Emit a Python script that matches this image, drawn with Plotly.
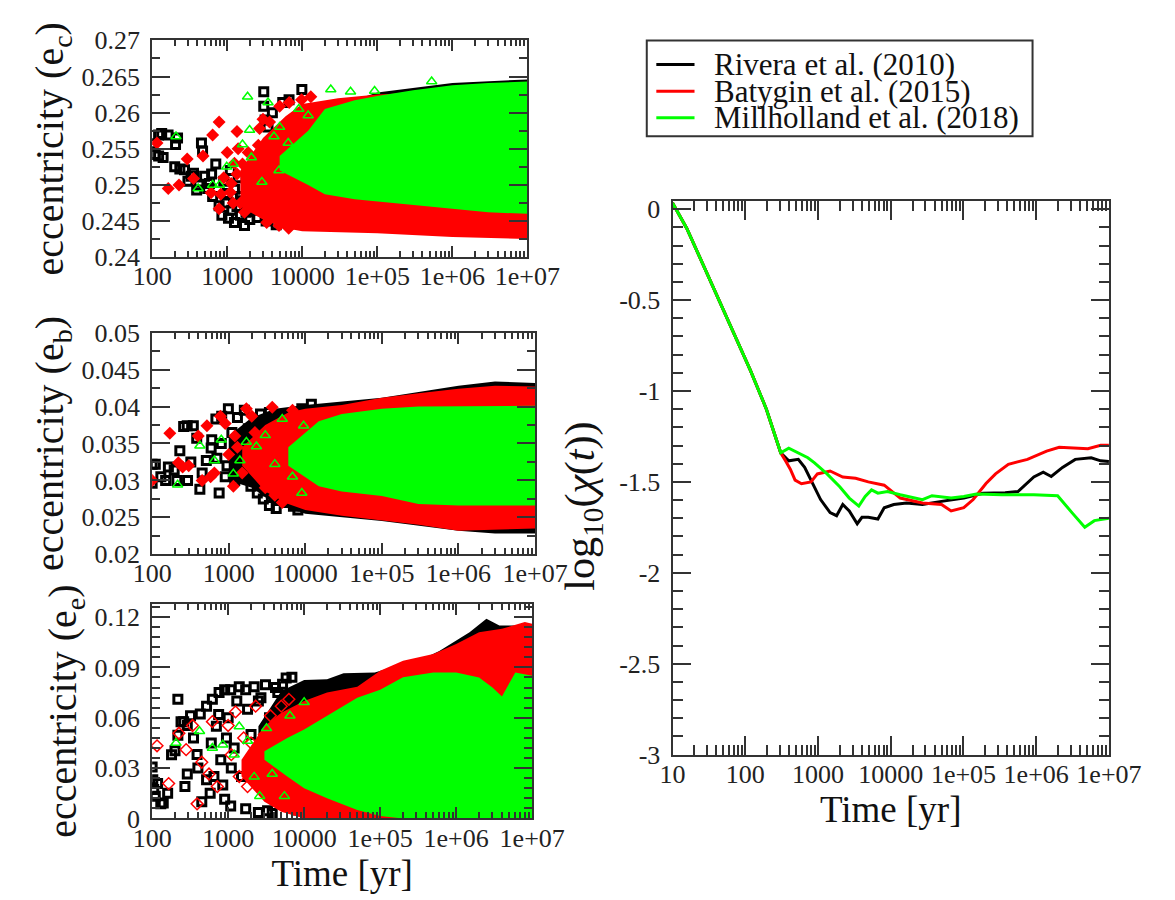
import plotly.graph_objects as go

# ------------------------------------------------------------------ data
SERIES = ["Rivera et al. (2010)", "Batygin et al. (2015)", "Millholland et al. (2018)"]
COLORS = ["#000000", "#ff0000", "#00ff00"]

LEFT_TIME_TICKS = [100, 1000, 10000, 1e5, 1e6, 1e7]
LEFT_TIME_LABELS = ["100", "1000", "10000", "1e+05", "1e+06", "1e+07"]
RIGHT_TIME_TICKS = [10, 100, 1000, 10000, 1e5, 1e6, 1e7]
RIGHT_TIME_LABELS = ["10", "100", "1000", "10000", "1e+05", "1e+06", "1e+07"]

EC_TICKS = [0.24, 0.245, 0.25, 0.255, 0.26, 0.265, 0.27]
EC_LABELS = ["0.24", "0.245", "0.25", "0.255", "0.26", "0.265", "0.27"]
EB_TICKS = [0.02, 0.025, 0.03, 0.035, 0.04, 0.045, 0.05]
EB_LABELS = ["0.02", "0.025", "0.03", "0.035", "0.04", "0.045", "0.05"]
EE_TICKS = [0, 0.03, 0.06, 0.09, 0.12]
EE_LABELS = ["0", "0.03", "0.06", "0.09", "0.12"]
CHI_TICKS = [-3, -2.5, -2, -1.5, -1, -0.5, 0]
CHI_LABELS = ["-3", "-2.5", "-2", "-1.5", "-1", "-0.5", "0"]

# --- panel 1 : e_c  (sparse early points) ---
ec_black_t = [100, 122, 134, 163, 110, 122, 140, 218, 205, 200, 234, 270, 356, 392, 454, 470, 705, 580, 640,
              780, 850, 1040, 1250, 1500, 1780, 1700, 1000, 1250, 1500, 2060, 2740, 3670, 3070, 3070, 5500,
              6670, 9880, 300, 330, 420, 500, 550, 620, 900, 1100, 1400, 1800, 2200, 2500, 2800, 3300,
              4000, 4500, 5000, 6000, 3500, 4000, 3200, 950, 1150, 1350, 1600, 2000, 2400]
ec_black_e = [0.2557, 0.2569, 0.2571, 0.2569, 0.2542, 0.2540, 0.2538, 0.2565, 0.2556, 0.2525, 0.2522, 0.2521,
              0.2516, 0.2493, 0.2558, 0.2547, 0.2529, 0.2502, 0.2484, 0.2471, 0.2458, 0.2454, 0.2448, 0.2458,
              0.2462, 0.2444, 0.2488, 0.2494, 0.2484, 0.2521, 0.2525, 0.2538, 0.2609, 0.2629, 0.2614, 0.2618,
              0.2632, 0.2505, 0.2512, 0.2500, 0.2512, 0.2495, 0.2515, 0.2505, 0.2520, 0.2510, 0.2495, 0.2470,
              0.2455, 0.2485, 0.2450, 0.2460, 0.2445, 0.2455, 0.2448, 0.2580, 0.2600, 0.2590, 0.2475, 0.2465,
              0.2470, 0.2478, 0.2452, 0.2465]
ec_red_t = [116, 164, 228, 293, 356, 476, 610, 640, 780, 780, 820, 1130, 1350, 1600, 1350, 1200, 1500, 1800,
            2700, 3000, 3670, 3360, 4900, 6600, 5000, 6700, 9800, 13000, 2000, 2300, 2600, 3000, 3500, 4000,
            4500, 5200, 6000, 7000, 8000, 900, 1000, 1100, 1250, 1400, 1700, 1900]
ec_red_e = [0.2558, 0.2495, 0.2500, 0.2536, 0.2509, 0.2540, 0.2489, 0.2569, 0.2587, 0.2467, 0.2487, 0.2502,
            0.2515, 0.2529, 0.2574, 0.2475, 0.2475, 0.2480, 0.2578, 0.2591, 0.2587, 0.2448, 0.2444, 0.2440,
            0.2609, 0.2614, 0.2618, 0.2622, 0.2500, 0.2530, 0.2555, 0.2470, 0.2510, 0.2545, 0.2570, 0.2490,
            0.2530, 0.2560, 0.2500, 0.2510, 0.2545, 0.2490, 0.2530, 0.2550, 0.2462, 0.2545]
ec_green_t = [208, 410, 640, 790, 985, 1200, 1870, 1990, 1600, 2100, 2900, 3500, 4200, 4900, 5000, 6500,
              9000, 9000, 12000, 24000, 44000, 92000, 530000]
ec_green_e = [0.2567, 0.2495, 0.2500, 0.2500, 0.2525, 0.2529, 0.2622, 0.2576, 0.2556, 0.2538, 0.2504, 0.2614,
              0.2567, 0.2520, 0.2580, 0.2558, 0.2605, 0.2534, 0.2596, 0.2632, 0.2629, 0.2630, 0.2643]
# dense envelopes (time, lower, upper)
ec_black_env_t = [4000, 1e4, 3e4, 1e5, 1e6, 1e7]
ec_black_env_lo = [0.2448, 0.2442, 0.2438, 0.2437, 0.2433, 0.2430]
ec_black_env_hi = [0.2470, 0.2560, 0.2610, 0.2628, 0.2641, 0.2646]
ec_red_env_t = [1500, 3000, 6000, 1e4, 3e4, 1e5, 1e6, 1e7]
ec_red_env_lo = [0.2470, 0.2452, 0.2440, 0.2436, 0.2435, 0.2433, 0.2428, 0.2425]
ec_red_env_hi = [0.2520, 0.2565, 0.2595, 0.2612, 0.2620, 0.2625, 0.2630, 0.2635]
ec_green_env_t = [5000, 1.2e4, 2e4, 5e4, 1e5, 3e5, 1e6, 3e6, 1e7]
ec_green_env_lo = [0.2520, 0.2500, 0.2487, 0.2480, 0.2477, 0.2472, 0.2467, 0.2462, 0.2460]
ec_green_env_hi = [0.2540, 0.2575, 0.2605, 0.2617, 0.2623, 0.2631, 0.2638, 0.2641, 0.2643]

# --- panel 2 : e_b ---
eb_black_t = [100, 100, 110, 163, 194, 210, 290, 258, 287, 345, 382, 420, 510, 590, 680, 810, 990, 750, 1950,
              2360, 2830, 3400, 4170, 3400, 5000, 9000, 12000, 130, 150, 230, 320, 450, 600, 900, 1100, 1300,
              1500, 1800, 2200, 2600, 3000, 5500, 7000, 8000, 700, 800, 950, 1200, 1400, 1600]
eb_black_e = [0.0296, 0.0322, 0.0322, 0.0318, 0.0314, 0.0300, 0.0300, 0.0373, 0.0374, 0.0374, 0.0357, 0.0288,
              0.0327, 0.0344, 0.0383, 0.0387, 0.0397, 0.0283, 0.0292, 0.0283, 0.0275, 0.0266, 0.0262, 0.0392,
              0.0387, 0.0397, 0.0403, 0.0305, 0.0300, 0.0340, 0.0325, 0.0310, 0.0355, 0.0305, 0.0365, 0.0385,
              0.0330, 0.0370, 0.0350, 0.0390, 0.0310, 0.0270, 0.0265, 0.0260, 0.0330, 0.0350, 0.0320, 0.0300,
              0.0350, 0.0395]
eb_red_t = [100, 170, 220, 250, 300, 400, 450, 520, 580, 780, 900, 1150, 1700, 2000, 3700, 6800, 1300, 2500,
            3000, 4500, 5000, 6000, 1500, 2200, 3300, 4000, 8000, 650, 1000, 1200]
eb_red_e = [0.0300, 0.0364, 0.0324, 0.0318, 0.0320, 0.0360, 0.0300, 0.0374, 0.0305, 0.0387, 0.0377, 0.0292,
            0.0397, 0.0387, 0.0399, 0.0395, 0.0345, 0.0335, 0.0290, 0.0320, 0.0270, 0.0360, 0.0310, 0.0365,
            0.0340, 0.0280, 0.0380, 0.0310, 0.0335, 0.0360]
eb_green_t = [215, 420, 650, 800, 1150, 1400, 1700, 2300, 3000, 5000, 4000, 6800, 9500, 9000]
eb_green_e = [0.0294, 0.0347, 0.0327, 0.0355, 0.0309, 0.0327, 0.0352, 0.0346, 0.0361, 0.0383, 0.0322, 0.0305,
              0.0374, 0.0283]
eb_black_env_t = [1000, 2000, 4000, 1e4, 1e5, 1e6, 3e6, 1e7]
eb_black_env_lo = [0.0300, 0.0290, 0.0268, 0.0255, 0.0245, 0.0232, 0.0228, 0.0228]
eb_black_env_hi = [0.0360, 0.0385, 0.0397, 0.0402, 0.0412, 0.0428, 0.0434, 0.0432]
eb_red_env_t = [1500, 3000, 6000, 1e4, 3e4, 1e5, 3e5, 1e6, 3e6, 1e7]
eb_red_env_lo = [0.0320, 0.0285, 0.0268, 0.0260, 0.0252, 0.0246, 0.0240, 0.0232, 0.0233, 0.0235]
eb_red_env_hi = [0.0345, 0.0375, 0.0392, 0.0397, 0.0402, 0.0412, 0.0418, 0.0424, 0.0428, 0.0427]
eb_green_env_t = [6000, 1.5e4, 3e4, 1e5, 3e5, 1e6, 3e6, 1e7]
eb_green_env_lo = [0.0320, 0.0292, 0.0285, 0.0279, 0.0268, 0.0266, 0.0266, 0.0266]
eb_green_env_hi = [0.0345, 0.0380, 0.0390, 0.0397, 0.0400, 0.0400, 0.0400, 0.0401]

# --- panel 3 : e_e ---
ee_black_t = [100, 102, 105, 110, 118, 130, 140, 200, 218, 240, 218, 260, 290, 290, 270, 320, 350, 390, 430,
              520, 620, 520, 580, 760, 900, 1080, 900, 1080, 1400, 1700, 2200, 3100, 1700, 2500, 3300, 5800,
              6900, 400, 600, 700, 800, 1000, 1200, 1500, 1800, 2000, 2500, 3000, 3500, 4000, 4500, 5000,
              6000, 7000, 8000, 160, 180, 450, 650, 750, 850, 950, 1100, 1300, 4200, 5200, 2700, 3800]
ee_black_e = [0.0306, 0.0230, 0.0173, 0.0133, 0.0208, 0.0087, 0.0092, 0.0404, 0.0496, 0.0577, 0.0710, 0.0577,
              0.0554, 0.0265, 0.0190, 0.0612, 0.0479, 0.0381, 0.0623, 0.0669, 0.0710, 0.0231, 0.0150, 0.0750,
              0.0767, 0.0767, 0.0115, 0.0075, 0.0785, 0.0767, 0.0785, 0.0796, 0.0058, 0.0035, 0.0046, 0.0837,
              0.0842, 0.0300, 0.0450, 0.0550, 0.0350, 0.0600, 0.0420, 0.0250, 0.0650, 0.0500, 0.0700, 0.0300,
              0.0600, 0.0150, 0.0750, 0.0450, 0.0100, 0.0650, 0.0050, 0.0150, 0.0380, 0.0100, 0.0250, 0.0620,
              0.0200, 0.0480, 0.0300, 0.0700, 0.0780, 0.0800, 0.0720, 0.0030]
ee_red_t = [116, 165, 225, 280, 340, 390, 450, 560, 620, 720, 1000, 1250, 2300, 1800, 3600, 5000, 6300, 2000,
            2500, 3000, 3500, 4000, 4500, 5000, 6000, 7000, 8000, 9000, 1100, 1400, 1600]
ee_red_e = [0.0433, 0.0208, 0.0508, 0.0410, 0.0554, 0.0087, 0.0335, 0.0265, 0.0577, 0.0190, 0.0554, 0.0635,
            0.0669, 0.0190, 0.0612, 0.0669, 0.0710, 0.0450, 0.0300, 0.0500, 0.0200, 0.0400, 0.0550, 0.0250,
            0.0450, 0.0150, 0.0600, 0.0350, 0.0380, 0.0250, 0.0480]
ee_green_t = [206, 420, 620, 850, 1200, 1400, 1800, 2200, 2600, 3200, 3800, 4500, 5500, 6500, 8000, 10000]
ee_green_e = [0.0450, 0.0520, 0.0420, 0.0439, 0.0380, 0.0548, 0.0462, 0.0248, 0.0133, 0.0537, 0.0265, 0.0380,
              0.0133, 0.0612, 0.0439, 0.0692]
ee_black_env_t = [2500, 5000, 1e4, 2e4, 3.3e4, 8.5e4, 1.4e5, 3.6e5, 6e5, 1.5e6, 2.5e6, 3.7e6, 8e6, 1e7]
ee_black_env_lo = [0.0250, 0.0060, 0, 0, 0, 0, 0, 0, 0, 0, 0, 0, 0, 0]
ee_black_env_hi = [0.0550, 0.0760, 0.0825, 0.0830, 0.0865, 0.0870, 0.0900, 0.0950, 0.0998, 0.1110,
                   0.1190, 0.1150, 0.1150, 0.1110]
ee_red_env_t = [1500, 3000, 5000, 1e4, 2e4, 5e4, 1e5, 2e5, 5e5, 1e6, 2e6, 4e6, 8e6, 1e7]
ee_red_env_lo = [0.0250, 0.0100, 0.0040, 0, 0, 0, 0, 0, 0, 0, 0, 0, 0, 0]
ee_red_env_hi = [0.0350, 0.0550, 0.0630, 0.0700, 0.0750, 0.0785, 0.0880, 0.0940, 0.0980, 0.1040, 0.1110,
                 0.1130, 0.1170, 0.1160]
ee_green_env_t = [3000, 6000, 1e4, 2e4, 5e4, 1e5, 2e5, 5e5, 1e6, 2e6, 3e6, 4e6, 6e6, 1e7]
ee_green_env_lo = [0.0350, 0.0250, 0.0180, 0.0120, 0.0050, 0.0015, 0, 0, 0, 0, 0, 0, 0, 0]
ee_green_env_hi = [0.0400, 0.0480, 0.0530, 0.0610, 0.0720, 0.0767, 0.0842, 0.0870, 0.0870, 0.0840, 0.0780,
                   0.0727, 0.0870, 0.0850]

# --- panel 4 : log10 chi(t) ---
chi_black_t = [10, 15.7, 26.1, 43.1, 71.3, 118, 195, 264, 307, 396, 536, 655, 887, 1085, 1466, 1800, 2190, 2690,
               3460, 4020, 4910, 6650, 8130, 11000, 16500, 27300, 49900, 101000, 185000, 374000, 561000,
               927000, 1.25e6, 1.61e6, 2.3e6, 3.44e6, 5.7e6, 7.7e6, 1e7]
chi_black_y = [0.035, -0.106, -0.302, -0.497, -0.692, -0.888, -1.10, -1.26, -1.34, -1.384, -1.376, -1.42,
               -1.527, -1.597, -1.669, -1.686, -1.624, -1.66, -1.73, -1.695, -1.695, -1.704, -1.642, -1.624,
               -1.616, -1.624, -1.607, -1.589, -1.562, -1.559, -1.553, -1.473, -1.447, -1.47, -1.42, -1.376,
               -1.367, -1.384, -1.388]
chi_red_t = [10, 15.7, 26.1, 43.1, 71.3, 118, 195, 264, 307, 357, 416, 484, 592, 801, 980, 1466, 2190, 3290,
             4910, 8130, 13500, 27300, 49900, 67600, 101000, 136000, 204000, 276000, 414000, 758000, 1.39e6,
             2.07e6, 5.14e6, 7.7e6, 1e7]
chi_red_y = [0.035, -0.106, -0.302, -0.497, -0.692, -0.888, -1.10, -1.26, -1.34, -1.384, -1.43, -1.49, -1.51,
             -1.50, -1.456, -1.44, -1.473, -1.48, -1.50, -1.518, -1.589, -1.616, -1.624, -1.66, -1.642, -1.597,
             -1.509, -1.456, -1.403, -1.376, -1.331, -1.31, -1.317, -1.299, -1.299]
chi_green_t = [10, 15.7, 26.1, 43.1, 71.3, 118, 195, 264, 307, 396, 536, 725, 887, 1330, 1990, 2690, 3640, 4450,
               5440, 6650, 9000, 13500, 27300, 36900, 67600, 101000, 151000, 338000, 927000, 1.97e6, 3.1e6,
               4.65e6, 6.3e6, 1e7]
chi_green_y = [0.035, -0.106, -0.302, -0.497, -0.692, -0.888, -1.10, -1.26, -1.34, -1.314, -1.34, -1.367,
               -1.394, -1.456, -1.527, -1.589, -1.633, -1.58, -1.544, -1.562, -1.553, -1.571, -1.598, -1.576,
               -1.589, -1.58, -1.566, -1.571, -1.571, -1.576, -1.669, -1.749, -1.713, -1.70]

# ------------------------------------------------------------------ figure
W, H = 1175, 900
FONT = "Liberation Serif, Times New Roman, serif"
AX = "#333333"


def px(x):
    return x / W


def py(y):
    return 1 - y / H


def minor_log(lo_exp, hi_exp):
    return [m * 10 ** k for k in range(lo_exp, hi_exp) for m in range(2, 10)]


fig = go.Figure()


def add_env(t, lo, hi, color, xa, ya):
    fig.add_trace(go.Scatter(x=list(t) + list(t)[::-1], y=list(hi) + list(lo)[::-1], fill="toself",
                             fillcolor=color, mode="lines", line=dict(width=0, color=color),
                             hoverinfo="skip", showlegend=False, xaxis=xa, yaxis=ya))


def add_pts(t, e, color, symbol, size, lw, xa, ya, name):
    fig.add_trace(go.Scatter(x=t, y=e, mode="markers", name=name, showlegend=False,
                             marker=dict(symbol=symbol, size=size, color=color,
                                         line=dict(width=lw, color=color)),
                             cliponaxis=True, xaxis=xa, yaxis=ya))


panels = [
    ("x", "y",
     (ec_black_t, ec_black_e, ec_black_env_t, ec_black_env_lo, ec_black_env_hi),
     (ec_red_t, ec_red_e, ec_red_env_t, ec_red_env_lo, ec_red_env_hi),
     (ec_green_t, ec_green_e, ec_green_env_t, ec_green_env_lo, ec_green_env_hi), "diamond"),
    ("x2", "y2",
     (eb_black_t, eb_black_e, eb_black_env_t, eb_black_env_lo, eb_black_env_hi),
     (eb_red_t, eb_red_e, eb_red_env_t, eb_red_env_lo, eb_red_env_hi),
     (eb_green_t, eb_green_e, eb_green_env_t, eb_green_env_lo, eb_green_env_hi), "diamond"),
    ("x3", "y3",
     (ee_black_t, ee_black_e, ee_black_env_t, ee_black_env_lo, ee_black_env_hi),
     (ee_red_t, ee_red_e, ee_red_env_t, ee_red_env_lo, ee_red_env_hi),
     (ee_green_t, ee_green_e, ee_green_env_t, ee_green_env_lo, ee_green_env_hi), "diamond-open"),
]

for xa, ya, blk, red, grn, red_sym in panels:
    add_env(blk[2], blk[3], blk[4], COLORS[0], xa, ya)
    add_pts(blk[0], blk[1], COLORS[0], "square-open", 8, 3, xa, ya, SERIES[0])
    add_env(red[2], red[3], red[4], COLORS[1], xa, ya)
    add_pts(red[0], red[1], COLORS[1], red_sym, 10 if red_sym == "diamond" else 9,
            0 if red_sym == "diamond" else 1.5, xa, ya, SERIES[1])
    add_env(grn[2], grn[3], grn[4], COLORS[2], xa, ya)
    add_pts(grn[0], grn[1], COLORS[2], "triangle-up-open", 9, 1.5, xa, ya, SERIES[2])

for t, y, c, n in [(chi_black_t, chi_black_y, COLORS[0], SERIES[0]),
                   (chi_red_t, chi_red_y, COLORS[1], SERIES[1]),
                   (chi_green_t, chi_green_y, COLORS[2], SERIES[2])]:
    fig.add_trace(go.Scatter(x=t, y=y, mode="lines", name=n, showlegend=False,
                             line=dict(color=c, width=3), xaxis="x4", yaxis="y4"))

tickfont = dict(family=FONT, size=26, color="#222222")
titlefont = dict(family=FONT, size=37, color="#111111")
ytitlefont = dict(family=FONT, size=40, color="#111111")


def xaxis_cfg(dom, anchor, rng, tv, tt, minor_vals, title=None, standoff=4, mlen=11, nlen=6):
    d = dict(type="log", domain=dom, anchor=anchor, range=rng, tickmode="array", tickvals=tv, ticktext=tt,
             ticks="inside", ticklen=mlen, tickwidth=2, tickcolor=AX, showline=True, linewidth=2,
             linecolor=AX, mirror="ticks", showgrid=False, zeroline=False, tickfont=tickfont,
             ticklabelstandoff=-5,
             minor=dict(tickmode="array", tickvals=minor_vals, ticks="inside", ticklen=nlen, tickwidth=2,
                        tickcolor=AX, showgrid=False))
    if title:
        d["title"] = dict(text=title, font=titlefont, standoff=standoff)
    return d


def yaxis_cfg(dom, anchor, rng, tv, tt, mdt, m0, title, standoff, mlen=18, nlen=8):
    d = dict(domain=dom, anchor=anchor, range=rng, tickmode="array", tickvals=tv, ticktext=tt,
             ticks="inside", ticklen=mlen, tickwidth=2, tickcolor=AX, showline=True, linewidth=2,
             linecolor=AX, mirror="ticks", showgrid=False, zeroline=False, tickfont=tickfont,
             ticklabelstandoff=5,
             minor=dict(tickmode="linear", tick0=m0, dtick=mdt, ticks="inside", ticklen=nlen, tickwidth=2,
                        tickcolor=AX, showgrid=False))
    if title:
        d["title"] = dict(text=title, font=ytitlefont, standoff=standoff)
    return d


fig.update_layout(
    width=W, height=H, margin=dict(l=0, r=0, t=0, b=0), paper_bgcolor="white", plot_bgcolor="white",
    showlegend=False, font=dict(family=FONT, size=26, color="#222222"),
    xaxis=xaxis_cfg([px(130), px(523)], "y", [2, 7], LEFT_TIME_TICKS, LEFT_TIME_LABELS, minor_log(2, 7)),
    yaxis=yaxis_cfg([py(243), py(19)], "x", [0.24, 0.27], EC_TICKS, EC_LABELS, 0.0025, 0.24,
                    "eccentricity (e<sub>c</sub>)", 5),
    xaxis2=xaxis_cfg([px(130), px(531)], "y2", [2, 7], LEFT_TIME_TICKS, LEFT_TIME_LABELS, minor_log(2, 7)),
    yaxis2=yaxis_cfg([py(550), py(321)], "x2", [0.02, 0.05], EB_TICKS, EB_LABELS, 0.0025, 0.02,
                     "eccentricity (e<sub>b</sub>)", 5),
    xaxis3=xaxis_cfg([px(130), px(528)], "y3", [2, 7], LEFT_TIME_TICKS, LEFT_TIME_LABELS, minor_log(2, 7),
                     title="Time [yr]", standoff=8),
    yaxis3=yaxis_cfg([py(823), py(601)], "x3", [0, 0.128], EE_TICKS, EE_LABELS, 0.006, 0,
                     "eccentricity (e<sub>e</sub>)", 5),
    xaxis4=xaxis_cfg([px(675), px(1132)], "y4", [1, 7], RIGHT_TIME_TICKS, RIGHT_TIME_LABELS, minor_log(1, 7),
                     title="Time [yr]", standoff=2, mlen=19, nlen=10),
    yaxis4=yaxis_cfg([py(757), py(185)], "x4", [-3, 0.045], CHI_TICKS, CHI_LABELS, 0.1, -3,
                     None, 0, mlen=18, nlen=10),
)

# right-panel y title (placed as in the reference, slightly below the axis centre)
fig.add_annotation(xref="paper", yref="paper", x=px(581), y=py(500), text="log<sub>10</sub>(<i>χ</i>(<i>t</i>))",
                   textangle=-90, showarrow=False, xanchor="center", yanchor="middle",
                   font=dict(family=FONT, size=42, color="#111111"))

# ------------------------------------------------------------------ legend (drawn box)
LEG_X0, LEG_X1, LEG_Y0, LEG_Y1 = 648, 1052, 19, 118
ROW_Y = [44, 71.5, 99]
fig.add_shape(type="rect", xref="paper", yref="paper", x0=px(LEG_X0), x1=px(LEG_X1), y0=py(LEG_Y1),
              y1=py(LEG_Y0), line=dict(color=AX, width=2), fillcolor="white")
for name, col, ry in zip(SERIES, COLORS, ROW_Y):
    fig.add_shape(type="line", xref="paper", yref="paper", x0=px(658), x1=px(698), y0=py(ry), y1=py(ry),
                  line=dict(color=col, width=3))
    fig.add_annotation(xref="paper", yref="paper", x=px(716), y=py(ry), text=name, showarrow=False,
                       xanchor="left", yanchor="middle", font=dict(family=FONT, size=31, color="#111111"))

fig.write_html("out.html")
